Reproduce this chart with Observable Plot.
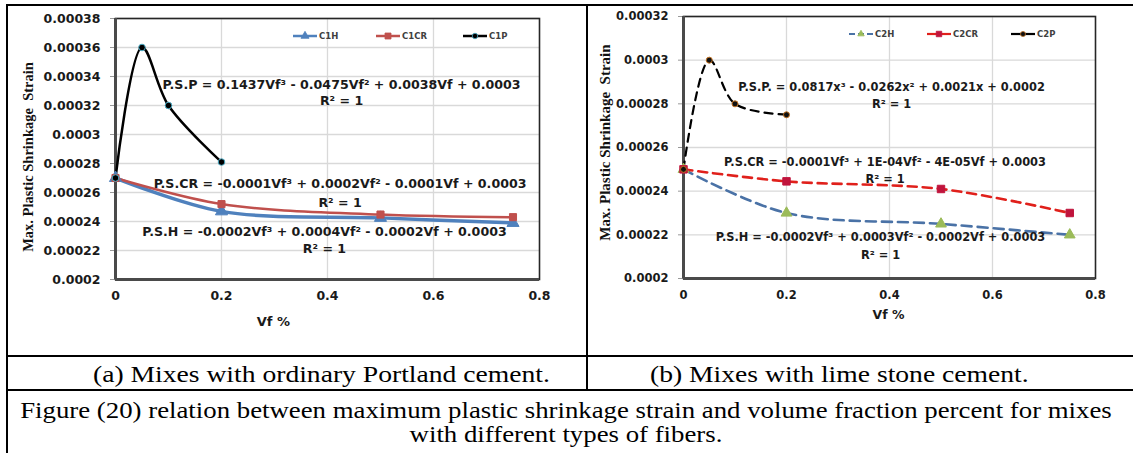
<!DOCTYPE html>
<html><head><meta charset="utf-8">
<script src="https://cdn.jsdelivr.net/npm/d3@7"></script>
<script src="https://cdn.jsdelivr.net/npm/@observablehq/plot@0.6"></script>
<style>
body{margin:0;background:#fff;}
#page{position:relative;width:1133px;height:453px;overflow:hidden;background:#fff;}
.ln{position:absolute;background:#000;}
.cap{position:absolute;font-family:"Liberation Serif","Times New Roman",serif;font-size:23px;line-height:24px;color:#000;white-space:nowrap;}
.leg{position:absolute;display:flex;align-items:center;font-family:"DejaVu Sans",sans-serif;font-weight:bold;color:#404040;white-space:nowrap;}
.plot{position:absolute;}
</style></head><body><div id="page"></div>
<script>
// ---------- data ----------
const vfHCR = [0, 0.2, 0.5, 0.75];
const vfP = [0, 0.05, 0.1, 0.2];
const c1H = [0.00027, 0.000247, 0.0002425, 0.000239];
const c1CR = [0.00027, 0.000252, 0.0002448, 0.000243];
const c1P = [0.00027, 0.00036, 0.00032, 0.000281];
const c2H = [0.00025, 0.00023, 0.000225, 0.00022];
const c2CR = [0.00025, 0.0002445, 0.000241, 0.00023];
const c2P = [0.00025, 0.0003, 0.00028, 0.000275];
const xTicks = [0, 0.2, 0.4, 0.6, 0.8];
const yTicksA = [0.0002, 0.00022, 0.00024, 0.00026, 0.00028, 0.0003, 0.00032, 0.00034, 0.00036, 0.00038];
const yTicksB = [0.0002, 0.00022, 0.00024, 0.00026, 0.00028, 0.0003, 0.00032];
const namesA = ["C1H", "C1CR", "C1P"];
const namesB = ["C2H", "C2CR", "C2P"];
const eqA = [
  "P.S.P = 0.1437Vf³ - 0.0475Vf² + 0.0038Vf + 0.0003", "R² = 1",
  "P.S.CR = -0.0001Vf³ + 0.0002Vf² - 0.0001Vf + 0.0003", "R² = 1",
  "P.S.H = -0.0002Vf³ + 0.0004Vf² - 0.0002Vf + 0.0003", "R² = 1"
];
const eqB = [
  "P.S.P. = 0.0817x³ - 0.0262x² + 0.0021x + 0.0002", "R² = 1",
  "P.S.CR = -0.0001Vf³ + 1E-04Vf² - 4E-05Vf + 0.0003", "R² = 1",
  "P.S.H = -0.0002Vf³ + 0.0003Vf² - 0.0002Vf + 0.0003", "R² = 1"
];
const yTitle = "Max. Plastic Shrinkage  Strain";
const xTitle = "Vf %";
const capA = "(a)  Mixes with ordinary Portland cement.";
const capB = "(b)  Mixes with lime stone cement.";
const figCap = ["Figure (20) relation between maximum plastic shrinkage strain and volume fraction percent for mixes", "with different types of fibers."];

// ---------- helpers ----------
const page = document.getElementById("page");
const pts = (xs, ys) => xs.map((x, i) => ({x, y: ys[i]}));
const fmt = d3.format("~g");

function panel(o) {
  const grid = {stroke: "#d9d9d9", strokeOpacity: 1, strokeWidth: 1.3};
  const marks = [
    Plot.gridY(o.yTicks, grid),
    Plot.gridX([0.2, 0.4, 0.6], grid),
    Plot.axisY(o.yTicks, {tickFormat: fmt, tickSize: 5, tickPadding: 10, fontSize: o.tick, fill: "#1a1a1a", stroke: "#999", label: null}),
    Plot.axisX(xTicks, {tickFormat: fmt, tickSize: 0, tickPadding: 12, fontSize: o.tick, fill: "#1a1a1a", label: null}),
    Plot.frame({stroke: "#262626", strokeWidth: 1.6}),
    Plot.ruleX([0], {stroke: "#4a4a4a", strokeWidth: 3}),
    Plot.ruleY([o.yDomain[0]], {stroke: "#4a4a4a", strokeWidth: 3})
  ];
  for (const s of o.series) {
    marks.push(Plot.line(s.data, {x: "x", y: "y", curve: "catmull-rom", stroke: s.color, strokeWidth: s.width, strokeDasharray: s.dash}));
  }
  for (const s of o.series) {
    marks.push(Plot.dot(s.data, {x: "x", y: "y", symbol: s.symbol, r: s.r, fill: s.mfill, stroke: s.mstroke, strokeWidth: 1}));
  }
  marks.push(Plot.text(o.eqs, {x: (d, i) => o.eqPos[i][0], y: (d, i) => o.eqPos[i][1], text: d => d, fontSize: o.eqSize, fill: "#1a1a1a"}));
  marks.push(Plot.text([yTitle], {frameAnchor: "left", textAnchor: "middle", rotate: -90, dx: o.ytDx, dy: o.ytDy, fontFamily: "Liberation Serif, Times New Roman, serif", fontSize: o.ytSize, fill: "#111"}));
  marks.push(Plot.text([xTitle], {x: o.xtX, frameAnchor: "bottom", dy: o.xtDy, fontSize: o.xtSize, fill: "#1a1a1a"}));
  const svg = Plot.plot({
    width: o.width, height: o.height,
    marginLeft: o.ml, marginRight: o.mr, marginTop: o.mt, marginBottom: o.mb,
    x: {domain: [0, 0.8]},
    y: {domain: o.yDomain},
    style: {fontFamily: "DejaVu Sans, sans-serif", fontWeight: "bold", background: "transparent", overflow: "visible"},
    marks
  });
  svg.classList.add("plot");
  svg.style.left = o.left + "px";
  svg.style.top = o.top + "px";
  svg.style.position = "absolute";
  page.appendChild(svg);
}

function legend(items, cy, size) {
  for (const it of items) {
    const div = document.createElement("div");
    div.className = "leg";
    div.style.left = it.left + "px";
    div.style.top = (cy - 6) + "px";
    div.style.height = "12px";
    div.style.fontSize = size + "px";
    const sv = d3.create("svg").attr("width", 24).attr("height", 12);
    sv.append("line").attr("x1", 0).attr("x2", 24).attr("y1", 6).attr("y2", 6)
      .attr("stroke", it.color).attr("stroke-width", it.lw).attr("stroke-dasharray", it.dash || null);
    sv.append("path").attr("d", d3.symbol(it.sym, it.area)()).attr("transform", "translate(12,6)")
      .attr("fill", it.mfill).attr("stroke", it.mstroke).attr("stroke-width", 0.8);
    div.appendChild(sv.node());
    const sp = document.createElement("span");
    sp.textContent = it.name;
    sp.style.marginLeft = "2px";
    div.appendChild(sp);
    page.appendChild(div);
  }
}

function line(l, t, w, h) {
  const d = document.createElement("div");
  d.className = "ln";
  Object.assign(d.style, {left: l + "px", top: t + "px", width: w + "px", height: h + "px"});
  page.appendChild(d);
}
function caption(text, l, t, w, sx) {
  const d = document.createElement("div");
  d.className = "cap";
  d.textContent = text;
  Object.assign(d.style, {left: l + "px", top: t + "px", transform: `scaleX(${sx})`});
  if (w) { d.style.width = w + "px"; d.style.textAlign = "center"; d.style.transformOrigin = "center"; }
  else d.style.transformOrigin = "left";
  page.appendChild(d);
}

// ---------- table frame ----------
line(6, 4, 1127, 2);
line(6, 4, 2, 449);
line(586, 4, 2, 387);
line(6, 355, 1127, 2);
line(6, 389, 1127, 2);

// ---------- panel (a) ----------
panel({
  left: 8, top: 6, width: 578, height: 350, ml: 107, mr: 47, mt: 12, mb: 77,
  yDomain: [0.0002, 0.00038], yTicks: yTicksA, tick: 12.5, eqSize: 12.6,
  ytDx: -87, ytDy: 8, ytSize: 14.5, xtX: 0.298, xtDy: 46, xtSize: 13,
  eqs: eqA,
  eqPos: [[0.4265, 0.0003345], [0.4265, 0.0003228], [0.4237, 0.0002662], [0.4237, 0.0002531], [0.3943, 0.0002331], [0.3943, 0.0002214]],
  series: [
    {data: pts(vfHCR, c1H), color: "#4f81bd", width: 3.5, symbol: "triangle", r: 4.5, mfill: "#4f81bd", mstroke: "#4f81bd"},
    {data: pts(vfHCR, c1CR), color: "#c0504d", width: 2.5, symbol: "square", r: 4, mfill: "#c0504d", mstroke: "#c0504d"},
    {data: pts(vfP, c1P), color: "#000", width: 2.5, symbol: "circle", r: 3.3, mfill: "#000", mstroke: "#4bacc6"}
  ]
});
legend([
  {left: 293, name: namesA[0], color: "#4f81bd", lw: 2.5, sym: d3.symbolTriangle, area: 28, mfill: "#4f81bd", mstroke: "#4f81bd"},
  {left: 376, name: namesA[1], color: "#c0504d", lw: 2.5, sym: d3.symbolSquare, area: 36, mfill: "#c0504d", mstroke: "#c0504d"},
  {left: 463, name: namesA[2], color: "#000", lw: 2.5, sym: d3.symbolCircle, area: 24, mfill: "#000", mstroke: "#4bacc6"}
], 36, 8.5);

// ---------- panel (b) ----------
panel({
  left: 588, top: 6, width: 544, height: 350, ml: 95, mr: 37, mt: 10, mb: 78,
  yDomain: [0.0002, 0.00032], yTicks: yTicksB, tick: 11.5, eqSize: 11.4,
  ytDx: -78, ytDy: -5, ytSize: 15, xtX: 0.398, xtDy: 40, xtSize: 12.5,
  eqs: eqB,
  eqPos: [[0.4039, 0.0002875], [0.4039, 0.0002797], [0.3913, 0.0002531], [0.3913, 0.0002453], [0.3825, 0.0002188], [0.3825, 0.0002105]],
  series: [
    {data: pts(vfHCR, c2H), color: "#4a72a6", width: 2.6, dash: "10,6", symbol: "triangle", r: 4, mfill: "#9bbb59", mstroke: "#9bbb59"},
    {data: pts(vfHCR, c2CR), color: "#e0201b", width: 2.6, dash: "9,6", symbol: "square", r: 4.2, mfill: "#c0143c", mstroke: "#c0143c"},
    {data: pts(vfP, c2P), color: "#000", width: 2.2, dash: "8,6", symbol: "circle", r: 3, mfill: "#111", mstroke: "#c07020"}
  ]
});
legend([
  {left: 849, name: namesB[0], color: "#4a72a6", lw: 2.2, dash: "6,3", sym: d3.symbolTriangle, area: 18, mfill: "#9bbb59", mstroke: "#9bbb59"},
  {left: 927, name: namesB[1], color: "#e0201b", lw: 2.2, sym: d3.symbolSquare, area: 30, mfill: "#c0143c", mstroke: "#c0143c"},
  {left: 1011, name: namesB[2], color: "#000", lw: 2.2, sym: d3.symbolCircle, area: 20, mfill: "#111", mstroke: "#c07020"}
], 34, 8.5);

// ---------- captions ----------
caption(capA, 93, 363, null, 1.2);
caption(capB, 650, 363, null, 1.2);
caption(figCap[0], 8, 399, 1116, 1.165);
caption(figCap[1], 8, 423, 1116, 1.165);
</script></body></html>
